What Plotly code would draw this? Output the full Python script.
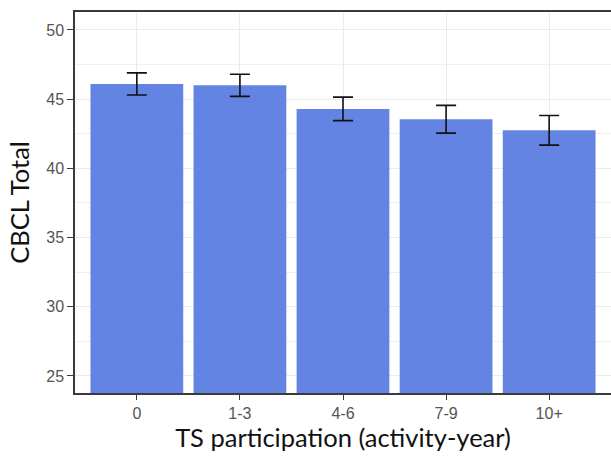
import plotly.graph_objects as go

# Mean CBCL Total by TS participation group, with error bar half-widths
categories = ["0", "1-3", "4-6", "7-9", "10+"]
cbcl_mean = [46.1, 46.0, 44.3, 43.55, 42.75]
cbcl_err = [0.8, 0.8, 0.85, 1.0, 1.07]
y_ticks = [25, 30, 35, 40, 45, 50]

grid = "#EBEBEB"
tick_font = dict(family="Liberation Sans, Arial, sans-serif", size=16, color="#555555")
title_font = dict(family="Lato, Open Sans, sans-serif", size=25.5, color="#111111")

fig = go.Figure(
    go.Bar(
        x=categories,
        y=cbcl_mean,
        width=0.9,
        marker=dict(color="#6484E4", line=dict(width=0)),
        error_y=dict(type="data", array=cbcl_err, visible=True,
                     color="#111111", thickness=1.6, width=10),
    )
)

fig.update_layout(
    width=611, height=456,
    margin=dict(l=75, r=0, t=12, b=63),
    paper_bgcolor="white", plot_bgcolor="white",
    showlegend=False,
    bargap=0.1,
)

# bottom axis mirrored to the top; the left axis is not mirrored so the
# panel stays open on the right edge of the page
fig.update_xaxes(
    range=[-0.6, 4.6],
    showgrid=True, gridcolor=grid, gridwidth=1.2,
    showline=True, linecolor="#3A3A3A", linewidth=1.5, mirror=True,
    ticks="outside", ticklen=5, tickcolor="#3A3A3A", tickwidth=1.2,
    tickfont=tick_font,
    title=dict(text="TS participation (activity-year)", font=title_font, standoff=3),
)

fig.update_yaxes(
    range=[23.77, 51.3],
    tickvals=y_ticks,
    showgrid=True, gridcolor=grid, gridwidth=1.2,
    minor=dict(dtick=2.5, tick0=22.5, showgrid=True, gridcolor="#F0F0F0", gridwidth=1),
    showline=True, linecolor="#3A3A3A", linewidth=1.5, mirror=False,
    ticks="outside", ticklen=6, tickcolor="#3A3A3A", tickwidth=1.2,
    tickfont=tick_font,
    zeroline=False,
    title=dict(text="CBCL Total", font=title_font, standoff=9),
)

fig.write_html("out.html")
